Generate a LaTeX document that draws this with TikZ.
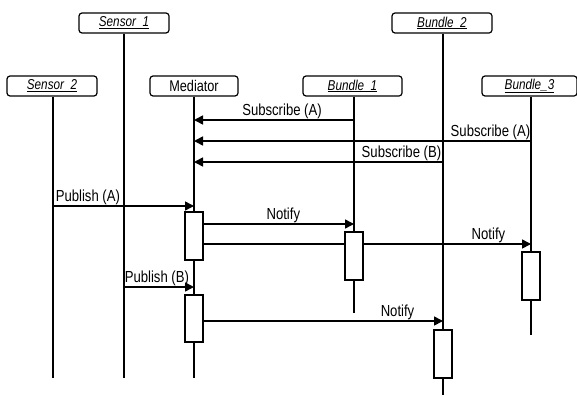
\documentclass[tikz,border=0pt]{standalone}
\usepackage{fontspec}
\setmainfont{Liberation Sans}[FakeStretch=0.82]
\usetikzlibrary{arrows.meta,positioning}

\begin{document}
\begin{tikzpicture}[x=1pt,y=-1pt,
  object/.style={draw,rounded corners=3pt,line width=1.2pt,minimum width=90pt,minimum height=20pt,inner sep=0pt,font=\fontsize{14.3}{14.3}\selectfont},
  life/.style={line width=1.1pt},
  msg/.style={line width=1.6pt,-{Triangle[length=9pt,width=9pt]}},
  act/.style={draw,fill=white,line width=1.2pt,minimum width=18pt,minimum height=48pt,inner sep=0pt},
  lbl/.style={inner sep=0pt,font=\fontsize{16}{16}\selectfont}]
\useasboundingbox (0,0) rectangle (577,396);

\node[object] at (124,23) (s1) {\textit{\underline{Sensor\ \ 1}}};
\node[object] at (52,86) (s2) {\textit{\underline{Sensor\ \ 2}}};
\node[object, minimum width=88pt, font=\fontsize{15.5}{15.5}\selectfont] at (194,86) (med) {Mediator};
\node[object, minimum width=99pt] at (352.5,86) (b1) {\textit{\underline{Bundle\ \ 1}}};
\node[object, minimum width=100pt] at (442,23) (b2) {\textit{\underline{Bundle\ \ 2}}};
\node[object, minimum width=95pt] at (529.5,86) (b3) {\textit{\underline{Bundle\_3}}};

\coordinate (s1end) at (124,378);
\coordinate (s2end) at (53,378);
\coordinate (medend) at (194,378);
\coordinate (b1end) at (354,313);
\coordinate (b2end) at (443,395);
\coordinate (b3end) at (531,335);

\draw[life] (s1) -- (s1end);
\draw[life] (s2.south -| s2end) -- (s2end);
\draw[life] (med) -- (medend);
\draw[life] (b1.south -| b1end) -- (b1end);
\draw[life] (b2.south -| b2end) -- (b2end);
\draw[life] (b3.south -| b3end) -- (b3end);

\draw[msg] (b1end |- 0,120) -- (medend |- 0,120) node[lbl,pos=0.45,above] {Subscribe (A)};
\draw[msg] (b3end |- 0,141) -- (medend |- 0,141) node[lbl,pos=0,above left] {Subscribe (A)};
\draw[msg] (b2end |- 0,162) -- (medend |- 0,162) node[lbl,pos=0,above left,xshift=-1pt] {Subscribe (B)};
\draw[msg] (s2end |- 0,206) -- (medend |- 0,206) node[lbl,pos=0,above right,xshift=2pt] {Publish (A)};

\node[act] at (medend |- 0,236) (ma1) {};
\draw[msg] (ma1.east |- 0,224) -- (b1end |- 0,224) node[lbl,pos=0.53,above] {Notify};
\draw[msg] (ma1.east |- 0,244) -- (b3end |- 0,244) node[lbl,pos=0.87,above] {Notify};
\node[act] at (b1end |- 0,256) (ba1) {};
\node[act] at (b3end |- 0,276) (ba3) {};

\draw[msg] (s1end |- 0,287) -- (medend |- 0,287) node[lbl,pos=0,above right] {Publish (B)};
\node[act, minimum height=47pt] at (medend |- 0,318.5) (ma2) {};
\draw[msg] (ma2.east |- 0,321) -- (b2end |- 0,321) node[lbl,pos=0.81,above] {Notify};
\node[act] at (b2end |- 0,354) (ba2) {};
\end{tikzpicture}
\end{document}
